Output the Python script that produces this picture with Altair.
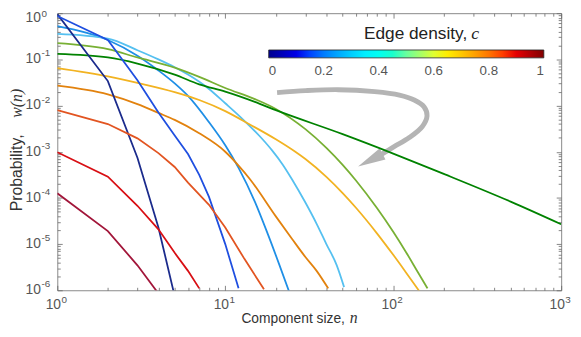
import altair as alt
import pandas as pd

# ---------------- data ----------------
curve_names = ["navy", "blue", "azure", "sky", "olive", "green",
               "amber", "orange", "vermilion", "red", "crimson"]
curve_colors = ["#1b2b8c", "#1f4fe0", "#1f8fe6", "#55c0f0", "#78b034", "#008200",
                "#f2b322", "#e2820e", "#e25522", "#d80f14", "#a2163a"]
straight_curves = ["navy", "blue", "vermilion", "red", "crimson"]

n_navy = [1, 2, 3, 4, 5]
w_navy = [0.955, 3.39e-2, 7.41e-4, 2.29e-5, 7.41e-7]

n_blue = [1, 2, 3, 4, 5, 6, 7, 8, 10, 12]
w_blue = [0.871, 0.263, 3.55e-2, 7.08e-3, 2.24e-3, 8.91e-4, 3.16e-4, 1.05e-4, 1.0e-5, 1.10e-6]

n_azure = [1, 2, 3, 4, 5, 6, 8, 10, 12, 15, 18, 21, 24]
w_azure = [0.525, 0.263, 0.120, 5.75e-2, 3.02e-2, 1.62e-2, 4.37e-3, 1.38e-3, 4.47e-4,
           8.32e-5, 1.58e-5, 3.55e-6, 9.33e-7]

n_sky = [1, 2, 3, 4, 5, 6, 8, 10, 13, 16, 19, 22, 25, 30, 35, 40, 46, 51]
w_sky = [0.355, 0.282, 0.158, 0.100, 6.76e-2, 4.68e-2, 2.29e-2, 1.12e-2, 4.68e-3, 2.19e-3,
         1.07e-3, 5.25e-4, 2.51e-4, 7.94e-5, 2.75e-5, 1.0e-5, 3.55e-6, 1.17e-6]

n_olive = [1, 2, 3, 5, 7, 10, 15, 20, 30, 40, 50, 60, 80, 100, 120, 140, 160]
w_olive = [0.224, 0.166, 0.110, 6.61e-2, 4.17e-2, 2.40e-2, 1.38e-2, 8.45e-3, 3.08e-3, 1.21e-3,
           5.18e-4, 2.38e-4, 6.05e-5, 1.85e-5, 6.43e-6, 2.49e-6, 1.10e-6]

n_green = [1, 2, 3, 5, 7, 10, 15, 20, 50, 100, 200, 500, 1000]
w_green = [0.132, 0.110, 8.13e-2, 4.68e-2, 2.88e-2, 2.00e-2, 1.20e-2, 7.94e-3, 2.40e-3,
           9.12e-4, 3.31e-4, 8.32e-5, 2.69e-5]

n_amber = [1, 2, 3, 5, 7, 10, 14, 20, 26, 30, 40, 50, 60, 80, 100, 120, 145]
w_amber = [6.46e-2, 4.27e-2, 3.09e-2, 1.95e-2, 1.32e-2, 7.59e-3, 3.89e-3, 1.86e-3, 1.01e-3,
           6.95e-4, 2.85e-4, 1.27e-4, 6.11e-5, 1.71e-5, 5.85e-6, 2.34e-6, 8.91e-7]

n_orange = [1, 2, 3, 4, 5, 7, 10, 12, 14, 20, 25, 30, 35, 41]
w_orange = [2.69e-2, 1.74e-2, 1.07e-2, 6.92e-3, 4.90e-3, 2.51e-3, 1.00e-3, 5.01e-4, 2.57e-4,
            3.98e-5, 1.29e-5, 5.25e-6, 2.63e-6, 1.10e-6]

n_verm = [1, 2, 3, 4, 5, 6, 8, 10, 13, 17]
w_verm = [7.94e-3, 3.98e-3, 1.95e-3, 9.33e-4, 4.68e-4, 2.14e-4, 7.08e-5, 2.29e-5, 4.79e-6, 1.05e-6]

n_red = [1, 2, 3, 4, 5, 6, 7]
w_red = [9.77e-4, 2.88e-4, 6.76e-5, 2.09e-5, 6.46e-6, 2.63e-6, 1.10e-6]

n_crimson = [1, 2, 3, 4]
w_crimson = [1.26e-4, 1.91e-5, 3.47e-6, 8.51e-7]

# colour bar (jet) stops and labels
jet_stops = [0.0, 0.125, 0.375, 0.625, 0.875, 1.0]
jet_colors = ["#00008f", "#0000ff", "#00ffff", "#ffff00", "#ff0000", "#800000"]
cbar_labels = [0, 0.2, 0.4, 0.6, 0.8, 1]

# annotation arrow path (in data coordinates)
arrow_n = [20.35, 30.1, 47.1, 77.6, 108.9, 133.4, 152.8, 159.0, 148.7, 124.7, 101.8, 83.1]
arrow_w = [1.905e-2, 2.103e-2, 2.208e-2, 2.000e-2, 1.684e-2, 1.318e-2, 9.33e-3, 6.00e-3,
           3.49e-3, 2.03e-3, 1.30e-3, 8.38e-4]
head_n = [73.1]
head_w = [6.55e-4]

# tick labels: mantissa "10" and exponent
x_major = [1, 10, 100, 1000]
x_exp = ["0", "1", "2", "3"]
y_major = [1e-6, 1e-5, 1e-4, 1e-3, 1e-2, 1e-1, 1]
y_exp = ["-6", "-5", "-4", "-3", "-2", "-1", "0"]

# ---------------- build tables ----------------
series = {
    "navy": (n_navy, w_navy), "blue": (n_blue, w_blue), "azure": (n_azure, w_azure),
    "sky": (n_sky, w_sky), "olive": (n_olive, w_olive), "green": (n_green, w_green),
    "amber": (n_amber, w_amber), "orange": (n_orange, w_orange),
    "vermilion": (n_verm, w_verm), "red": (n_red, w_red), "crimson": (n_crimson, w_crimson),
}
rows = []
for name in curve_names:
    ns, ws = series[name]
    for n, w in zip(ns, ws):
        rows.append({"curve": name, "n": n, "w": w})
df = pd.DataFrame(rows)

arrow_df = pd.DataFrame({"i": list(range(len(arrow_n))), "n": arrow_n, "w": arrow_w})
head_df = pd.DataFrame({"n": head_n, "w": head_w})
leg_df = pd.DataFrame({"c": [0.0, 1.0]})
xlab_df = pd.DataFrame({"n": x_major, "exp": x_exp})
ylab_df = pd.DataFrame({"w": y_major, "exp": y_exp})

x_ticks = [k * 10 ** e for e in range(0, 3) for k in range(1, 10)] + [1000]
y_ticks = [k * 10.0 ** e for e in range(-6, 0) for k in range(1, 10)] + [1]

W, H = 511, 281
X0, Y0 = 58.3, 11.0  # page position of the plot origin (for annotation placement)

xs = alt.Scale(type="log", domain=[1, 1000], nice=False)
ys = alt.Scale(type="log", domain=[1e-6, 1], nice=False)

FONT = "Liberation Sans"
LABEL_COLOR = "#555"
major_test = "abs(log(datum.value)/LN10 - round(log(datum.value)/LN10)) < 0.001"
tick_size = {"condition": {"test": major_test, "value": 5}, "value": 3}

# arrow
arrow = alt.Chart(arrow_df).mark_line(
    color="#b4b4b4", strokeWidth=5, interpolate="catmull-rom", strokeCap="butt"
).encode(
    x=alt.X("n:Q", scale=xs, axis=None),
    y=alt.Y("w:Q", scale=ys, axis=None),
    order=alt.Order("i:Q"),
)
head = alt.Chart(head_df).mark_point(
    shape="M0,-1L0.45,1L-0.45,1Z", filled=True, color="#b4b4b4", opacity=1,
    size=784, angle=242.6, strokeWidth=0
).encode(
    x=alt.X("n:Q", scale=xs, axis=None),
    y=alt.Y("w:Q", scale=ys, axis=None),
)

stroke_enc = alt.Stroke("curve:N", scale=alt.Scale(domain=curve_names, range=curve_colors),
                        legend=None)
straight_list = "[" + ",".join("'%s'" % c for c in straight_curves) + "]"

lines_straight = alt.Chart(df).transform_filter(
    "indexof(" + straight_list + ", datum.curve) >= 0"
).mark_line(strokeWidth=1.8, clip=True).encode(
    x=alt.X("n:Q", scale=xs, axis=None),
    y=alt.Y("w:Q", scale=ys, axis=None),
    stroke=stroke_enc,
    order=alt.Order("n:Q"),
)
lines_smooth = alt.Chart(df).transform_filter(
    "indexof(" + straight_list + ", datum.curve) < 0"
).mark_line(strokeWidth=1.8, clip=True, interpolate="monotone").encode(
    x=alt.X("n:Q", scale=xs, axis=None),
    y=alt.Y("w:Q", scale=ys, axis=None),
    stroke=stroke_enc,
    order=alt.Order("n:Q"),
)

# inward ticks: bottom & left
ticks_a = alt.Chart(df).mark_point(opacity=0).encode(
    x=alt.X("n:Q", scale=xs, axis=alt.Axis(
        orient="top", offset=-H, values=x_ticks, labels=False, domain=False, grid=False,
        title=None, tickSize=tick_size, tickColor="#666", tickWidth=0.8)),
    y=alt.Y("w:Q", scale=ys, axis=alt.Axis(
        orient="right", offset=-W, values=y_ticks, labels=False, domain=False, grid=False,
        title=None, tickSize=tick_size, tickColor="#666", tickWidth=0.8)),
)
# inward ticks: top & right
ticks_b = alt.Chart(df).mark_point(opacity=0).encode(
    x=alt.X("n:Q", scale=xs, axis=alt.Axis(
        orient="bottom", offset=-H, values=x_ticks, labels=False, domain=False, grid=False,
        title=None, tickSize=tick_size, tickColor="#666", tickWidth=0.8)),
    y=alt.Y("w:Q", scale=ys, axis=alt.Axis(
        orient="left", offset=-W, values=y_ticks, labels=False, domain=False, grid=False,
        title=None, tickSize=tick_size, tickColor="#666", tickWidth=0.8)),
)

# tick labels as "10" plus raised exponent
xl_base = alt.Chart(xlab_df)
x_ten = xl_base.mark_text(align="center", baseline="middle", fontSize=14, font=FONT,
                          color=LABEL_COLOR, dx=-4).encode(
    x=alt.X("n:Q", scale=xs, axis=None), y=alt.value(H + 15.5), text=alt.value("10"))
x_pow = xl_base.mark_text(align="left", baseline="middle", fontSize=10, font=FONT,
                          color=LABEL_COLOR, dx=4.2, dy=-6).encode(
    x=alt.X("n:Q", scale=xs, axis=None), y=alt.value(H + 15.5), text="exp:N")


def ylabels(filter_expr, dy_ten, dy_pow):
    base = alt.Chart(ylab_df).transform_filter(filter_expr)
    ten = base.mark_text(align="left", baseline="middle", fontSize=14, font=FONT,
                         color=LABEL_COLOR, dy=dy_ten).encode(
        x=alt.value(26 - X0), y=alt.Y("w:Q", scale=ys, axis=None), text=alt.value("10"))
    pw = base.mark_text(align="left", baseline="middle", fontSize=10, font=FONT,
                        color=LABEL_COLOR, dy=dy_pow).encode(
        x=alt.value(42.3 - X0), y=alt.Y("w:Q", scale=ys, axis=None), text="exp:N")
    return [ten, pw]


y_lab_layers = ylabels("datum.w < 1", 0, -6) + ylabels("datum.w >= 1", 4.5, 0.5)

# colour bar legend
cbar = alt.Chart(leg_df).mark_point(opacity=0).encode(
    x=alt.value(0), y=alt.value(0),
    color=alt.Color("c:Q", scale=alt.Scale(domain=jet_stops, range=jet_colors),
                    legend=alt.Legend(
                        orient="none", legendX=272.7 - X0, legendY=48.3 - Y0,
                        direction="horizontal", title=None, gradientLength=279,
                        gradientThickness=8, gradientStrokeColor="#222",
                        gradientStrokeWidth=0.8, values=cbar_labels, format="~g",
                        labelFontSize=13.5, labelColor=LABEL_COLOR, labelFont=FONT,
                        labelOffset=6, labelAlign="center", padding=0,
                        labelOverlap=False)),
)


def txt(s, px, py, **kw):
    return alt.Chart(pd.DataFrame({"t": [s]})).mark_text(**kw).encode(
        x=alt.value(px - X0), y=alt.value(py - Y0), text="t:N")


t_prob = txt("Probability,", 17, 134, angle=270, align="right", baseline="middle",
             fontSize=16, font=FONT, color="#333")
t_wn = txt("w(n)", 17, 117, angle=270, align="left", baseline="middle",
           fontSize=16, font="Liberation Serif", fontStyle="italic", color="#333")
t_comp = txt("Component size,", 350, 325, align="right", baseline="alphabetic",
             fontSize=14, font=FONT, color="#333")
t_n = txt("n", 355, 325, align="left", baseline="alphabetic",
          fontSize=16, font="Liberation Serif", fontStyle="italic", color="#333")
t_edge = txt("Edge density,", 474, 37, align="right", baseline="alphabetic",
             fontSize=17.5, font=FONT, color="#222")
t_c = txt("c", 478, 37, align="left", baseline="alphabetic",
          fontSize=18, font="Liberation Serif", fontStyle="italic", color="#222")

chart = alt.layer(
    arrow, head, lines_smooth, lines_straight, ticks_a, ticks_b, cbar,
    x_ten, x_pow, *y_lab_layers,
    t_prob, t_wn, t_comp, t_n, t_edge, t_c,
).resolve_axis(x="independent", y="independent").properties(
    width=W, height=H, autosize=alt.AutoSizeParams(type="none"),
    padding={"left": 50, "top": 3, "right": 12, "bottom": 36},
).configure_view(stroke="#888", strokeWidth=1)

chart.save("out.html", embed_options={"renderer": "svg", "actions": False})
